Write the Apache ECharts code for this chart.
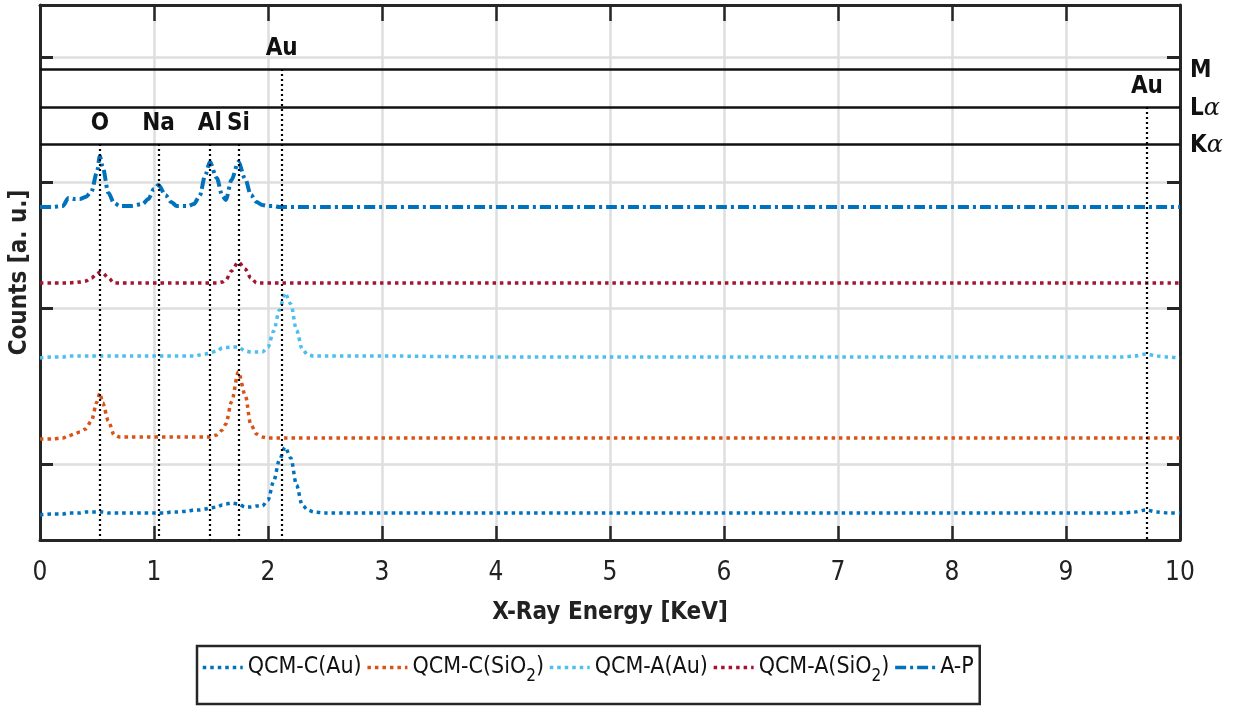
<!DOCTYPE html>
<html>
<head>
<meta charset="utf-8">
<script src="https://cdn.jsdelivr.net/npm/echarts@6/dist/echarts.min.js"></script>
<style>
  html, body { margin: 0; padding: 0; background: #fff; }
  #chart { width: 1236px; height: 708px; }
</style>
</head>
<body>
<div id="chart"></div>
<script>
// energy grid [keV], finer where the peaks are
var energy = [0, 0.1, 0.2, 0.25, 0.3, 0.35, 0.4, 0.45, 0.5, 0.525,
  0.55, 0.6, 0.65, 0.7, 0.8, 0.9, 0.95, 1.0, 1.04, 1.1,
  1.15, 1.2, 1.3, 1.35, 1.4, 1.45, 1.49, 1.55, 1.6, 1.63,
  1.68, 1.74, 1.8, 1.85, 1.9, 1.95, 2.0, 2.05, 2.1, 2.15,
  2.2, 2.25, 2.3, 2.35, 2.4, 2.5, 3, 4, 5, 6,
  7, 8, 9, 9.5, 9.6, 9.7, 9.8, 9.9, 10];

// counts, offset per sample (a. u.)
var qcmCAu = [5.0, 5.2, 5.2, 5.4, 5.4, 5.4, 5.6, 5.6, 5.6, 5.6,
  5.6, 5.4, 5.4, 5.4, 5.4, 5.4, 5.4, 5.4, 5.4, 5.4,
  5.6, 5.6, 5.8, 6.0, 6.0, 6.2, 6.4, 6.6, 7.0, 7.2,
  7.4, 7.2, 6.6, 6.6, 6.8, 6.8, 8.0, 11.8, 16.0, 18.6,
  16.4, 11.0, 7.0, 6.0, 5.6, 5.4, 5.4, 5.4, 5.4, 5.4,
  5.4, 5.4, 5.4, 5.4, 5.6, 6.0, 5.6, 5.4, 5.4];

var qcmCSiO2 = [20.2, 20.2, 20.4, 20.8, 21.2, 21.6, 22.2, 23.8, 27.6, 29.4,
  27.4, 23.8, 21.0, 20.6, 20.6, 20.6, 20.6, 20.6, 20.6, 20.6,
  20.6, 20.6, 20.6, 20.6, 20.6, 20.6, 20.6, 21.0, 22.0, 23.2,
  27.6, 33.6, 29.0, 23.0, 21.2, 20.6, 20.4, 20.4, 20.4, 20.4,
  20.4, 20.4, 20.4, 20.4, 20.4, 20.4, 20.4, 20.4, 20.4, 20.4,
  20.4, 20.4, 20.4, 20.4, 20.4, 20.4, 20.4, 20.4, 20.4];

var qcmAAu = [36.4, 36.6, 36.6, 36.8, 36.8, 36.8, 36.8, 36.8, 36.8, 36.8,
  36.8, 36.8, 36.8, 36.8, 36.8, 36.8, 36.8, 36.8, 36.8, 36.8,
  36.8, 36.8, 36.8, 36.8, 37.0, 37.2, 37.4, 37.8, 38.4, 38.5,
  38.6, 38.6, 37.8, 37.6, 37.6, 37.6, 38.6, 41.8, 46.0, 49.4,
  47.2, 42.0, 38.2, 37.0, 36.8, 36.8, 36.8, 36.6, 36.6, 36.6,
  36.6, 36.6, 36.6, 36.6, 36.8, 37.2, 36.8, 36.6, 36.4];

var qcmASiO2 = [51.4, 51.4, 51.4, 51.4, 51.5, 51.6, 51.8, 52.4, 53.2, 53.6,
  53.4, 52.4, 51.4, 51.4, 51.4, 51.4, 51.4, 51.4, 51.4, 51.4,
  51.4, 51.4, 51.4, 51.4, 51.4, 51.4, 51.4, 51.4, 51.6, 52.0,
  53.8, 55.6, 54.2, 52.4, 51.4, 51.4, 51.4, 51.4, 51.4, 51.4,
  51.4, 51.4, 51.4, 51.4, 51.4, 51.4, 51.4, 51.4, 51.4, 51.4,
  51.4, 51.4, 51.4, 51.4, 51.4, 51.4, 51.4, 51.4, 51.4];

var aP = [66.6, 66.6, 66.8, 68.4, 68.2, 68.2, 68.6, 69.6, 73.6, 76.8,
  74.6, 69.4, 67.4, 66.8, 66.8, 67.2, 68.2, 70.2, 71.0, 69.0,
  67.6, 66.8, 66.8, 67.2, 68.8, 73.0, 75.6, 72.4, 68.8, 68.0,
  72.0, 75.6, 72.2, 69.0, 67.6, 67.0, 66.8, 66.8, 66.6, 66.6,
  66.6, 66.6, 66.6, 66.6, 66.6, 66.6, 66.6, 66.6, 66.6, 66.6,
  66.6, 66.6, 66.6, 66.6, 66.6, 66.6, 66.6, 66.6, 66.6];

var yTickValues = [15.2, 46.4, 71.6, 96.6];

// emission line bands
var shellNames = ['K{g|α}', 'L{g|α}', 'M'];
var shellLevels = [79.2, 86.6, 94.2];

var kaElements = ['O', 'Na', 'Al', 'Si'];
var kaEnergy = [0.525, 1.04, 1.49, 1.74];
var auMEnergy = 2.12;
var auLaEnergy = 9.71;

var FONT = "'Liberation Sans Narrow', 'Arial Narrow', 'DejaVu Sans Condensed', sans-serif";
var DARK = '#262626';

function pairs(arr) {
  return energy.map(function (e, i) { return [e, arr[i]]; });
}

function spec(name, arr, color, dash, width) {
  return {
    name: name,
    type: 'line',
    data: pairs(arr),
    symbol: 'none',
    smooth: 0.3,
    smoothMonotone: 'x',
    z: 3,
    itemStyle: { color: color },
    lineStyle: { color: color, width: width, type: dash, cap: 'butt' }
  };
}

var elemLabel = {
  show: true,
  position: 'start',
  distance: 8,
  formatter: '{b}',
  color: '#111',
  fontFamily: FONT,
  fontWeight: 'bold',
  fontSize: 24
};

var vLines = [];
for (var i = 0; i < kaEnergy.length; i++) {
  vLines.push([{ name: kaElements[i], coord: [kaEnergy[i], shellLevels[0]] }, { coord: [kaEnergy[i], 0] }]);
}
vLines.push([{ name: 'Au', coord: [auMEnergy, shellLevels[2]] }, { coord: [auMEnergy, 0] }]);
vLines.push([{ name: 'Au', coord: [auLaEnergy, shellLevels[1]] }, { coord: [auLaEnergy, 0] }]);

var hLines = [];
for (var j = 0; j < shellLevels.length; j++) {
  hLines.push({ name: shellNames[j], yAxis: shellLevels[j] });
}

var dotted = [3.5, 4];

var option = {
  animation: false,
  backgroundColor: '#fff',
  grid: { left: 39, right: 56, top: 5, bottom: 168 },
  legend: {
    data: ['QCM-C(Au)', 'QCM-C(SiO2)', 'QCM-A(Au)', 'QCM-A(SiO2)', 'A-P'],
    left: 197,
    top: 646,
    itemGap: 4,
    itemWidth: 40,
    itemHeight: 14,
    padding: [10, 6, 19, 4],
    borderColor: DARK,
    borderWidth: 2.5,
    borderRadius: 0,
    backgroundColor: '#fff',
    itemStyle: { opacity: 0 },
    lineStyle: { width: 3.5 },
    formatter: function (n) { return n.replace('SiO2', 'SiO{s|2}'); },
    textStyle: {
      fontFamily: FONT,
      fontSize: 23,
      color: '#111',
      rich: {
        s: { fontFamily: FONT, fontSize: 17, color: '#111', padding: [18, 0, 0, 0] }
      }
    }
  },
  xAxis: [{
    type: 'value',
    min: 0,
    max: 10,
    interval: 1,
    name: 'X-Ray Energy [KeV]',
    nameLocation: 'middle',
    nameGap: 61,
    nameTextStyle: { fontFamily: FONT, fontWeight: 'bold', fontSize: 24, color: '#222' },
    axisLine: { show: true, lineStyle: { color: DARK, width: 3 } },
    axisTick: { show: true, inside: true, length: 14, lineStyle: { color: DARK, width: 2.5 } },
    axisLabel: { margin: 20, fontFamily: FONT, fontSize: 26, color: '#222' },
    splitLine: { show: true, lineStyle: { color: '#dedede', width: 2.5 } }
  }, {
    type: 'value',
    position: 'top',
    min: 0,
    max: 10,
    interval: 1,
    axisLine: { show: true, onZero: false, lineStyle: { color: DARK, width: 3 } },
    axisTick: { show: true, inside: true, length: 16, lineStyle: { color: DARK, width: 2.5 } },
    axisLabel: { show: false },
    splitLine: { show: false }
  }],
  yAxis: [{
    type: 'value',
    min: 0,
    max: 107,
    name: 'Counts [a. u.]',
    nameLocation: 'middle',
    nameGap: 8,
    nameTextStyle: { fontFamily: FONT, fontWeight: 'bold', fontSize: 24, color: '#222' },
    axisLine: { show: true, lineStyle: { color: DARK, width: 3 } },
    axisTick: { show: true, inside: true, length: 13, customValues: yTickValues, lineStyle: { color: DARK, width: 3 } },
    axisLabel: { show: false, customValues: yTickValues },
    splitLine: { show: true, lineStyle: { color: '#dedede', width: 2.5 } }
  }, {
    type: 'value',
    position: 'right',
    min: 0,
    max: 107,
    axisLine: { show: true, onZero: false, lineStyle: { color: DARK, width: 3 } },
    axisTick: { show: true, inside: true, length: 13, customValues: yTickValues, lineStyle: { color: DARK, width: 3 } },
    axisLabel: { show: false, customValues: yTickValues },
    splitLine: { show: false }
  }],
  series: [
    {
      name: 'guides',
      type: 'line',
      data: [],
      z: 2,
      markLine: {
        silent: true,
        symbol: ['none', 'none'],
        animation: false,
        lineStyle: { color: '#111', width: 2.5, type: 'solid' },
        label: {
          show: true,
          position: 'end',
          distance: 10,
          formatter: '{b}',
          color: '#111',
          fontFamily: FONT,
          fontWeight: 'bold',
          fontSize: 24,
          padding: [4, 0, 0, 0],
          rich: { g: { fontFamily: 'DejaVu Serif', fontStyle: 'italic', fontWeight: 'normal', fontSize: 24, color: '#111' } }
        },
        data: hLines
      }
    },
    {
      name: 'elements',
      type: 'line',
      data: [],
      z: 4,
      markLine: {
        silent: true,
        symbol: ['none', 'none'],
        animation: false,
        lineStyle: { color: '#000', width: 2.2, type: [2, 3] },
        label: elemLabel,
        data: vLines
      }
    },
    spec('QCM-C(Au)', qcmCAu, '#0072BD', dotted, 3.5),
    spec('QCM-C(SiO2)', qcmCSiO2, '#D95319', dotted, 3.5),
    spec('QCM-A(Au)', qcmAAu, '#4DBEEE', dotted, 3.5),
    spec('QCM-A(SiO2)', qcmASiO2, '#A2142F', dotted, 3.5),
    spec('A-P', aP, '#0072BD', [11, 4, 3, 4], 4)
  ]
};

var chart = echarts.init(document.getElementById('chart'));
chart.setOption(option);
</script>
</body>
</html>
